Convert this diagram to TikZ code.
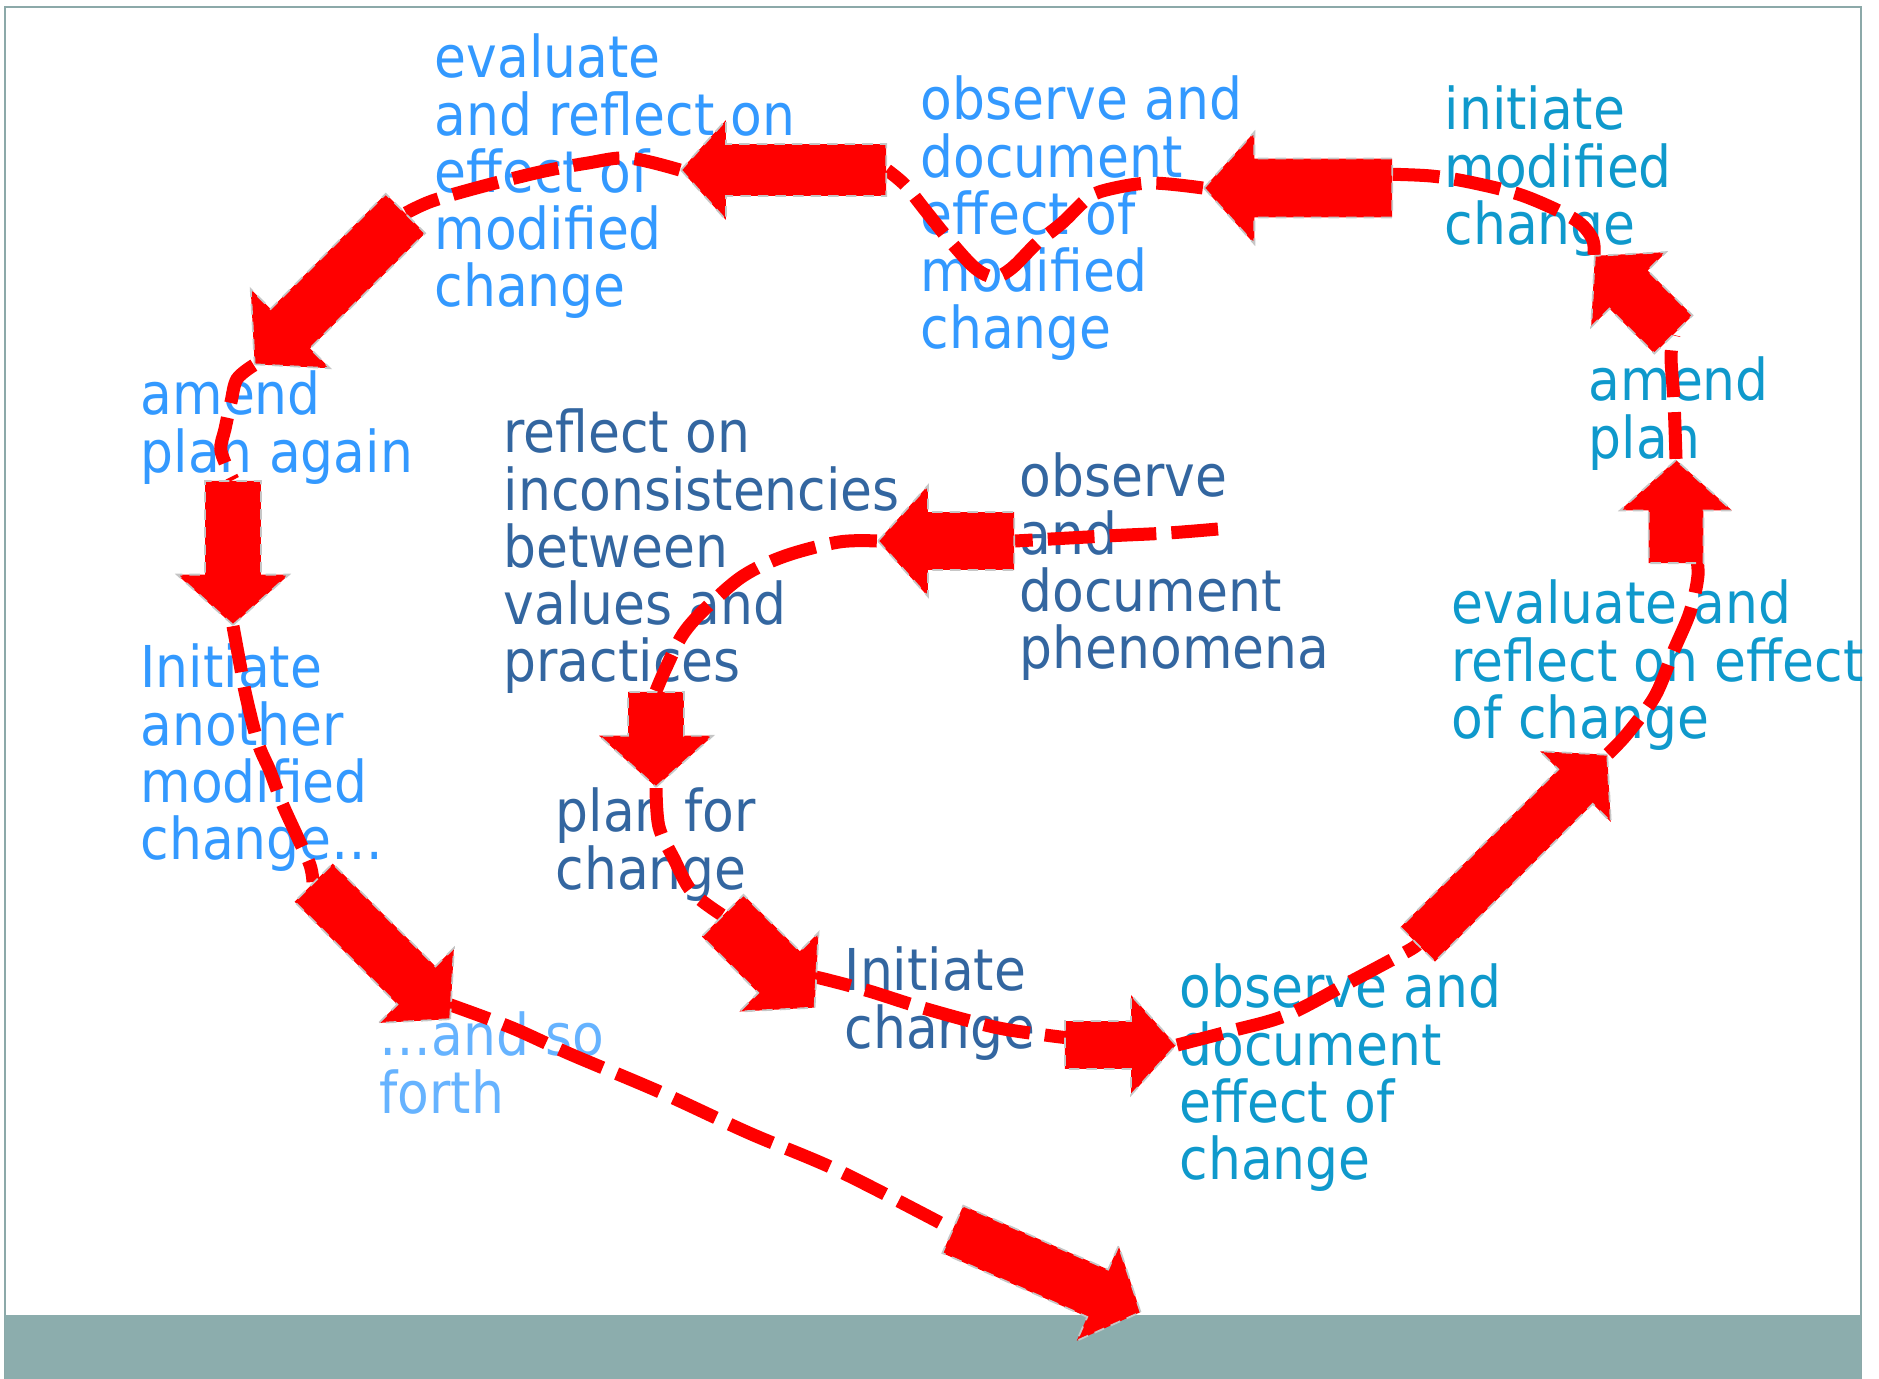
\documentclass[tikz,border=0pt]{standalone}
\usepackage{fontspec}
\setmainfont{DejaVu Sans Condensed}
\usetikzlibrary{shapes.arrows, backgrounds}
\definecolor{outerblue}{HTML}{3399FF}
\definecolor{farblue}{HTML}{66B3FF}
\definecolor{midteal}{HTML}{0F99CC}
\definecolor{innerblue}{HTML}{3366A0}
\definecolor{framegray}{HTML}{8CA9A9}
\definecolor{bandgray}{HTML}{8CADAD}
\definecolor{loopred}{HTML}{FF0000}
\newcommand\lh{\rule{0pt}{14pt}}
\tikzset{
  lbl/.style={anchor=north west, inner sep=0pt, align=left,
              font=\fontsize{16.4pt}{16.25pt}\selectfont},
  outer/.style={lbl, text=outerblue},
  second/.style={lbl, text=midteal},
  inner/.style={lbl, text=innerblue},
  fat/.style={single arrow, anchor=tail, fill=loopred, draw=gray!45, densely dashed,
              line width=0.5pt, inner xsep=0pt, single arrow tip angle=96},
  loop/.style={draw=loopred, line width=3.7pt, dash pattern=on 13.3pt off 4.3pt},
}

\begin{document}
\begin{tikzpicture}[x=0.01cm, y=-0.01cm]
  \useasboundingbox (0,0) rectangle (1879,1379);
  % block arrows
  \node (a1) [fat, rotate=180, minimum height=2.05cm, inner ysep=0.25cm, single arrow head extend=0.24cm] at (887,170) {};
  \node (a2) [fat, rotate=180, minimum height=1.88cm, inner ysep=0.285cm, single arrow head extend=0.265cm] at (1393,188) {};
  \node (a3) [fat, rotate=225, minimum height=2.13cm, inner ysep=0.27cm, single arrow head extend=0.28cm] at (406,213) {};
  \node (a4) [fat, rotate=270, minimum height=1.44cm, inner ysep=0.27cm, single arrow head extend=0.28cm] at (233,480) {};
  \node (a5) [fat, rotate=315, minimum height=1.93cm, inner ysep=0.26cm, single arrow head extend=0.26cm] at (313,882) {};
  \node (a6) [fat, rotate=270, minimum height=0.95cm, inner ysep=0.27cm, single arrow head extend=0.29cm] at (656,691) {};
  \node (a7) [fat, rotate=315, minimum height=1.30cm, inner ysep=0.285cm, single arrow head extend=0.265cm] at (722,915) {};
  \node (a8) [fat, rotate=180, minimum height=1.36cm, inner ysep=0.28cm, single arrow head extend=0.265cm] at (1015,541) {};
  \node (a9) [fat, minimum height=1.11cm, inner ysep=0.23cm, single arrow head extend=0.26cm] at (1064,1045) {};
  \node (a10) [fat, rotate=45, minimum height=2.68cm, inner ysep=0.235cm, single arrow head extend=0.255cm] at (1417,945) {};
  \node (a11) [fat, rotate=90, minimum height=1.03cm, inner ysep=0.265cm, single arrow head extend=0.285cm] at (1676,564) {};
  \node (a12) [fat, rotate=135, minimum height=1.11cm, inner ysep=0.26cm, single arrow head extend=0.26cm] at (1674,335) {};
  \node (a13) [fat, rotate=-23.8, minimum height=2.05cm, inner ysep=0.25cm, single arrow head extend=0.26cm] at (952,1229) {};

  \begin{scope}[on background layer]
    % frame and band
    \draw[framegray, line width=0.7pt] (5,1379) -- (5,7) -- (1861,7) -- (1861,1379);
    \fill[bandgray] (5,1315) rectangle (1861,1379);

    % labels
    \node (evalmod) [outer] at (434,28) {\lh evaluate\\and reflect on\\effect of\\modified\\change};
    \node (obsmod) [outer] at (920,70) {\lh observe and\\document\\effect of\\modified\\change};
    \node (again) [outer] at (140,365) {\lh amend\\plan again};
    \node (another) [outer] at (140,638) {\lh Initiate\\another\\modified\\change\ldots};
    \node (forth) [lbl, text=farblue] at (379,1006) {\lh\ldots and so\\forth};

    \node (initmod) [second] at (1444,80) {\lh initiate\\modified\\change};
    \node (amend) [second] at (1588,351) {\lh amend\\plan};
    \node (evalchg) [second] at (1451,574) {\lh evaluate and\\reflect on effect\\of change};
    \node (obschg) [second] at (1179,958) {\lh observe and\\document\\effect of\\change};

    \node (reflect) [inner] at (503,403) {\lh reflect on\\inconsistencies\\between\\values and\\practices};
    \node (phen) [inner] at (1019,447) {\lh observe\\and\\document\\phenomena};
    \node (planfor) [inner] at (555,782) {\lh plan for\\change};
    \node (initchg) [inner] at (844,941) {\lh Initiate\\change};

    % dashed loop
    \coordinate (p0) at (1218,529);
    \coordinate (k7) at (805,975);
    \coordinate (e9) at (1078,1039);
    \coordinate (e11) at (1695,548);
    \coordinate (e2) at (1380,174);
    \coordinate (k5) at (445,1003);
    \draw[loop] plot[smooth, tension=0.55] coordinates {(p0) (1168,533) (1106,536) (a8.tail)};
    \draw[loop] plot[smooth, tension=0.55] coordinates {(a8.tip) (839,542) (785,556) (743,576) (707,607) (683,634) (665,670) (a6.tail)};
    \draw[loop] plot[smooth, tension=0.55] coordinates {(a6.tip) (659,827) (674,859) (692,892) (a7.tail)};
    \draw[loop] plot[smooth, tension=0.55] coordinates {(k7) (824,979) (869,991) (923,1008) (994,1027) (1045,1035) (e9)};
    \draw[loop] plot[smooth, tension=0.55] coordinates {(a9.tip) (1231,1031) (1287,1015) (1350,982) (1406,952) (a10.tail)};
    \draw[loop] plot[smooth, tension=0.55] coordinates {(a10.tip) (1627,734) (1655,696) (1674,650) (1690,612) (1698,575) (e11)};
    \draw[loop] plot[smooth, tension=0.55] coordinates {(a11.tip) (1674,402) (1671,357) (a12.tail)};
    \draw[loop] plot[smooth, tension=0.55] coordinates {(a12.tip) (1592,238) (1574,219) (1524,196) (1474,183) (1431,176) (e2)};
    \draw[loop] plot[smooth, tension=0.55] coordinates {(a2.tip) (1150,183) (1106,190) (1087,199) (1062,223) (1037,243) (1012,268) (994,277) (975,268) (950,241) (925,210) (905,185) (a1.tail)};
    \draw[loop] plot[smooth, tension=0.55] coordinates {(a1.tip) (629,158) (588,163) (540,172) (480,187) (432,201) (a3.tail)};
    \draw[loop] plot[smooth, tension=0.55] coordinates {(a3.tip) (237,379) (231,402) (225,429) (221,451) (a4.tail)};
    \draw[loop] plot[smooth, tension=0.55] coordinates {(a4.tip) (240,664) (246,696) (258,743) (270,771) (282,803) (297,836) (310,865) (a5.tail)};
    \draw[loop] plot[smooth, tension=0.55] coordinates {(k5) (510,1027) (570,1054) (660,1092) (749,1133) (839,1171) (a13.tail)};
  \end{scope}
\end{tikzpicture}
\end{document}
